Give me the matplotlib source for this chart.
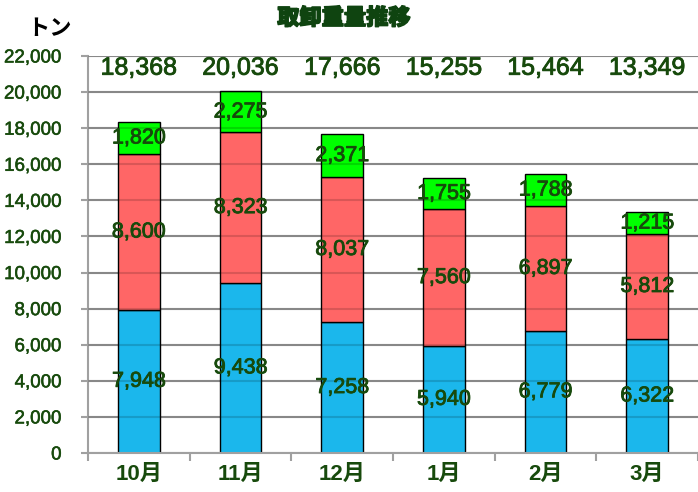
import matplotlib
matplotlib.use("Agg")
import matplotlib.pyplot as plt
import matplotlib.patheffects as pe
import numpy as np

plt.rcParams['font.family'] = ['Liberation Sans', 'Noto Sans CJK JP']

months = ['10月', '11月', '12月', '1月', '2月', '3月']
blue_vals = [7948, 9438, 7258, 5940, 6779, 6322]
red_vals = [8600, 8323, 8037, 7560, 6897, 5812]
green_vals = [1820, 2275, 2371, 1755, 1788, 1215]
totals = [18368, 20036, 17666, 15255, 15464, 13349]
yticks = list(range(0, 22001, 2000))

label_color = '#174a0c'
thick = [pe.withStroke(linewidth=0.6, foreground=label_color)]

fig = plt.figure(figsize=(6.98, 4.92), dpi=100)
ax = fig.add_axes([88/698, 39/492, 610/698, 397/492])

x = np.arange(len(months))
w = 0.41
blue = np.array(blue_vals)
red = np.array(red_vals)
green = np.array(green_vals)

ax.bar(x, blue, w, color='#1BB7EC', edgecolor='black', linewidth=1, zorder=2)
ax.bar(x, red, w, bottom=blue, color='#FF6666', edgecolor='black', linewidth=1, zorder=2)
ax.bar(x, green, w, bottom=blue + red, color='#00FF00', edgecolor='black', linewidth=1, zorder=2)

# gridlines faintly visible through bars
for v in yticks[1:]:
    ax.axhline(v, color='black', alpha=0.15, linewidth=1.5, zorder=3)

for i in range(len(months)):
    ax.text(x[i], blue[i] / 2, f'{blue[i]:,}', ha='center', va='center', fontsize=15.5,
            color=label_color, zorder=4, path_effects=thick)
    ax.text(x[i], blue[i] + red[i] / 2, f'{red[i]:,}', ha='center', va='center', fontsize=15.5,
            color=label_color, zorder=4, path_effects=thick)
    ax.text(x[i], blue[i] + red[i] + green[i] / 2, f'{green[i]:,}', ha='center', va='center', fontsize=15.5,
            color=label_color, zorder=4, path_effects=thick)
    ax.text(x[i], 21350, f'{totals[i]:,}', ha='center', va='center', fontsize=18,
            color=label_color, zorder=4, path_effects=thick)

ax.set_xlim(-0.5, len(months) - 0.5)
ax.set_ylim(0, 22000)
ax.set_yticks(yticks)
ax.set_yticklabels([f'{v:,}' for v in yticks], fontsize=13.5, color=label_color)
for t in ax.get_yticklabels():
    t.set_path_effects([pe.withStroke(linewidth=0.4, foreground=label_color)])
ax.yaxis.grid(True, color='#A0A0A0', linewidth=1.5, zorder=1)
ax.set_axisbelow(True)

ax.set_xticks(x)
ax.set_xticklabels(months, fontsize=16, fontweight='bold', color=label_color)
ax.set_xticks(np.arange(-0.5, len(months)), minor=True)
ax.tick_params(axis='x', which='major', length=0, pad=8)
ax.tick_params(axis='x', which='minor', length=6, color='#A0A0A0', width=1.5)
ax.tick_params(axis='y', length=5, color='#A0A0A0', width=1.5, pad=14)

for s in ['top', 'right']:
    ax.spines[s].set_visible(False)
for s in ['left', 'bottom']:
    ax.spines[s].set_color('#A0A0A0')
    ax.spines[s].set_linewidth(1.5)

fig.text(344/698, 1 - 19/492, '取卸重量推移', ha='center', va='center', fontsize=16, fontweight='heavy',
         color='#0f4410', path_effects=[pe.withStroke(linewidth=1.0, foreground='#0f4410')])
fig.text(50/698, 1 - 29/492, 'トン', ha='center', va='center', fontsize=16, fontweight='bold', color='black')

fig.savefig('out.png', dpi=100)
